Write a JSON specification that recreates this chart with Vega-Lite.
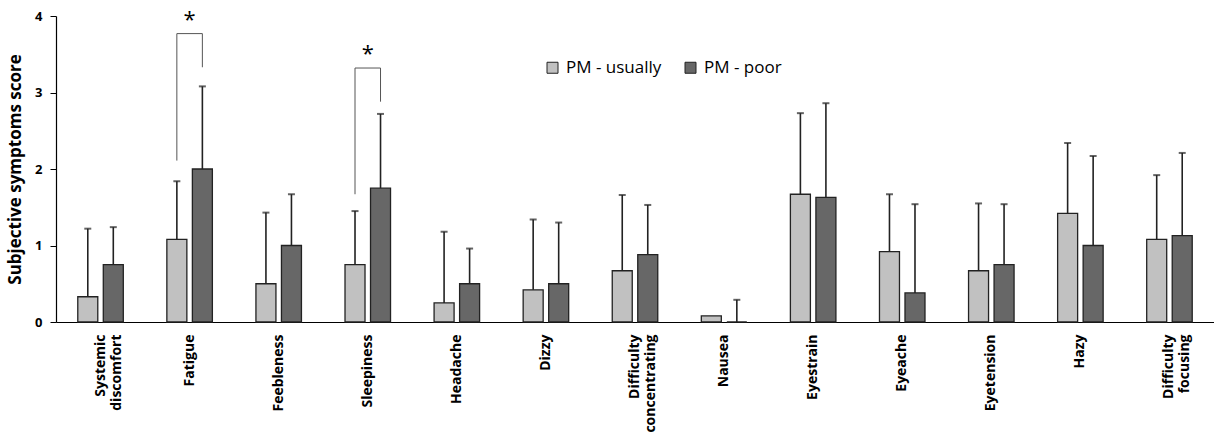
{
  "$schema": "https://vega.github.io/schema/vega-lite/v6.json",
  "autosize": {"type": "none"},
  "padding": {"left": 56, "top": 16, "right": 0, "bottom": 110},
  "width": 1158,
  "height": 306,
  "background": "white",
  "config": {
    "font": "Open Sans",
    "view": {"stroke": null},
    "axis": {"grid": false, "labelColor": "#000", "titleColor": "#000", "domainColor": "#000", "tickColor": "#000"}
  },
  "datasets": {
    "bars": [
      {"cat": "Systemic discomfort", "grp": "PM - usually", "mean": 0.33, "upper": 1.22},
      {"cat": "Systemic discomfort", "grp": "PM - poor", "mean": 0.75, "upper": 1.24},
      {"cat": "Fatigue", "grp": "PM - usually", "mean": 1.08, "upper": 1.84},
      {"cat": "Fatigue", "grp": "PM - poor", "mean": 2.0, "upper": 3.08},
      {"cat": "Feebleness", "grp": "PM - usually", "mean": 0.5, "upper": 1.43},
      {"cat": "Feebleness", "grp": "PM - poor", "mean": 1.0, "upper": 1.67},
      {"cat": "Sleepiness", "grp": "PM - usually", "mean": 0.75, "upper": 1.45},
      {"cat": "Sleepiness", "grp": "PM - poor", "mean": 1.75, "upper": 2.72},
      {"cat": "Headache", "grp": "PM - usually", "mean": 0.25, "upper": 1.18},
      {"cat": "Headache", "grp": "PM - poor", "mean": 0.5, "upper": 0.96},
      {"cat": "Dizzy", "grp": "PM - usually", "mean": 0.42, "upper": 1.34},
      {"cat": "Dizzy", "grp": "PM - poor", "mean": 0.5, "upper": 1.3},
      {"cat": "Difficulty concentrating", "grp": "PM - usually", "mean": 0.67, "upper": 1.66},
      {"cat": "Difficulty concentrating", "grp": "PM - poor", "mean": 0.88, "upper": 1.53},
      {"cat": "Nausea", "grp": "PM - usually", "mean": 0.08, "upper": null},
      {"cat": "Nausea", "grp": "PM - poor", "mean": 0, "upper": 0.29},
      {"cat": "Eyestrain", "grp": "PM - usually", "mean": 1.67, "upper": 2.73},
      {"cat": "Eyestrain", "grp": "PM - poor", "mean": 1.63, "upper": 2.86},
      {"cat": "Eyeache", "grp": "PM - usually", "mean": 0.92, "upper": 1.67},
      {"cat": "Eyeache", "grp": "PM - poor", "mean": 0.38, "upper": 1.54},
      {"cat": "Eyetension", "grp": "PM - usually", "mean": 0.67, "upper": 1.55},
      {"cat": "Eyetension", "grp": "PM - poor", "mean": 0.75, "upper": 1.54},
      {"cat": "Hazy", "grp": "PM - usually", "mean": 1.42, "upper": 2.34},
      {"cat": "Hazy", "grp": "PM - poor", "mean": 1.0, "upper": 2.17},
      {"cat": "Difficulty focusing", "grp": "PM - usually", "mean": 1.08, "upper": 1.92},
      {"cat": "Difficulty focusing", "grp": "PM - poor", "mean": 1.13, "upper": 2.21}
    ],
    "brackets": [
      {"bracket": "Fatigue", "cat": "Fatigue", "grp": "PM - usually", "val": 2.11, "ord": 1},
      {"bracket": "Fatigue", "cat": "Fatigue", "grp": "PM - usually", "val": 3.77, "ord": 2},
      {"bracket": "Fatigue", "cat": "Fatigue", "grp": "PM - poor", "val": 3.77, "ord": 3},
      {"bracket": "Fatigue", "cat": "Fatigue", "grp": "PM - poor", "val": 3.33, "ord": 4},
      {"bracket": "Sleepiness", "cat": "Sleepiness", "grp": "PM - usually", "val": 1.67, "ord": 1},
      {"bracket": "Sleepiness", "cat": "Sleepiness", "grp": "PM - usually", "val": 3.32, "ord": 2},
      {"bracket": "Sleepiness", "cat": "Sleepiness", "grp": "PM - poor", "val": 3.32, "ord": 3},
      {"bracket": "Sleepiness", "cat": "Sleepiness", "grp": "PM - poor", "val": 2.88, "ord": 4}
    ],
    "stars": [
      {"cat": "Fatigue", "val": 4.0, "label": "*"},
      {"cat": "Sleepiness", "val": 3.55, "label": "*"}
    ]
  },
  "encoding": {
    "x": {
      "field": "cat", "type": "nominal", "sort": null,
      "scale": {"paddingInner": 0.489, "paddingOuter": 0.2445},
      "axis": {
        "title": null, "labelAngle": -90, "ticks": false, "labelPadding": 12,
        "labelFontSize": 14, "labelFontWeight": "bold", "labelLineHeight": 16,
        "labelExpr": "split(datum.value, ' ')", "domainWidth": 1.2
      }
    }
  },
  "layer": [
    {
      "data": {"name": "bars"},
      "mark": {"type": "bar", "stroke": "#222", "strokeWidth": 1.3},
      "encoding": {
        "xOffset": {"field": "grp", "type": "nominal", "sort": ["PM - usually", "PM - poor"], "scale": {"paddingInner": 0.216, "paddingOuter": 0}},
        "y": {
          "field": "mean", "type": "quantitative",
          "scale": {"domain": [0, 4], "nice": false},
          "axis": {
            "title": "Subjective symptoms score", "titleFontSize": 17, "titleFontWeight": "bold", "titlePadding": 10,
            "values": [0, 1, 2, 3, 4], "format": "d", "labelFontSize": 13, "labelFontWeight": "bold",
            "tickSize": 6, "labelPadding": 8, "domainWidth": 1.2
          }
        },
        "color": {
          "field": "grp", "type": "nominal",
          "scale": {"domain": ["PM - usually", "PM - poor"], "range": ["#c1c1c1", "#676767"]},
          "legend": {
            "title": null, "orient": "none", "direction": "horizontal", "legendX": 488, "legendY": 43,
            "symbolType": "square", "symbolSize": 121, "symbolStrokeColor": "#222", "symbolStrokeWidth": 1,
            "labelFontSize": 17, "labelColor": "#000", "labelOffset": 5, "columnPadding": 20
          }
        }
      }
    },
    {
      "data": {"name": "bars"},
      "transform": [{"filter": "datum.upper != null"}],
      "mark": {"type": "rule", "color": "#222", "strokeWidth": 1.6},
      "encoding": {
        "xOffset": {"field": "grp", "type": "nominal", "sort": ["PM - usually", "PM - poor"], "scale": {"paddingInner": 0.216, "paddingOuter": 0}},
        "y": {"field": "mean", "type": "quantitative"},
        "y2": {"field": "upper"}
      }
    },
    {
      "data": {"name": "bars"},
      "transform": [{"filter": "datum.upper != null"}],
      "mark": {"type": "tick", "color": "#222", "size": 7, "thickness": 2},
      "encoding": {
        "xOffset": {"field": "grp", "type": "nominal", "sort": ["PM - usually", "PM - poor"], "scale": {"paddingInner": 0.216, "paddingOuter": 0}},
        "y": {"field": "upper", "type": "quantitative"}
      }
    },
    {
      "data": {"name": "brackets"},
      "mark": {"type": "line", "color": "#555", "strokeWidth": 1},
      "encoding": {
        "xOffset": {"field": "grp", "type": "nominal", "sort": ["PM - usually", "PM - poor"], "scale": {"paddingInner": 0.216, "paddingOuter": 0}},
        "y": {"field": "val", "type": "quantitative"},
        "detail": {"field": "bracket"},
        "order": {"field": "ord"}
      }
    },
    {
      "data": {"name": "stars"},
      "mark": {"type": "text", "fontSize": 22, "baseline": "middle", "dy": 4, "color": "#000"},
      "encoding": {
        "y": {"field": "val", "type": "quantitative"},
        "text": {"field": "label"}
      }
    }
  ]
}
